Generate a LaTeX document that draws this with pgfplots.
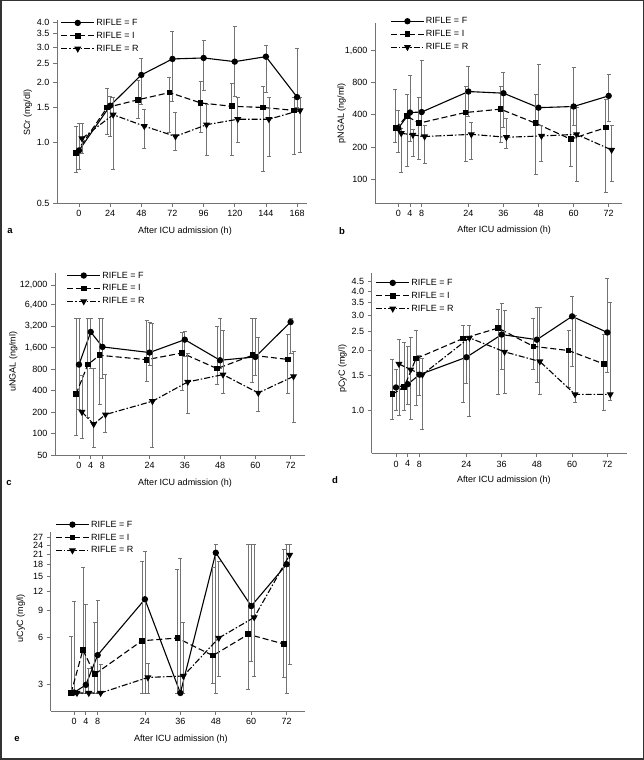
\documentclass[border=0pt]{standalone}
\usepackage{fontspec}
\setmainfont{Liberation Sans}
\usepackage{pgfplots}
\pgfplotsset{compat=1.18}
\pgfplotsset{
  panel/.style={
    scale only axis,
    anchor=south west,
    axis x line*=bottom,
    axis y line*=left,
    axis line style={-, draw=black!55, line width=0.8pt},
    tick style={draw=black!55, line width=0.8pt},
    tick align=outside,
    major tick length=4pt,
    yminorticks=false,
    font=\fontsize{9}{10.8}\selectfont,
    legend cell align=left,
    legend style={draw=none, fill=none, inner sep=0pt, row sep=0.9pt, anchor=north west,
       nodes={inner sep=1.5pt, text height=7pt, text depth=2pt},
       /tikz/every even column/.append style={column sep=3pt},
       font=\fontsize{9}{10.8}\selectfont},
    legend image code/.code={
       \draw[mark repeat=2,mark phase=2,##1] plot coordinates {(0pt,0pt) (16.5pt,0pt) (33pt,0pt)};},
    clip=false,
  },
  eb/.style={error bars/y dir=both, error bars/y explicit,
     error bars/error bar style={solid, draw=black!55, line width=0.7pt},
     error bars/error mark options={solid, draw=black!55, line width=0.7pt, mark size=2pt, rotate=90}},
  sF/.style={black, solid, line width=1.1pt, mark=*, mark size=2.6pt, mark options={solid}},
  sI/.style={black, dash pattern=on 6pt off 3pt, line width=1.1pt, mark=square*, mark size=2.3pt, mark options={solid}},
  sR/.style={black, dash pattern=on 6pt off 2pt on 1.5pt off 2pt, line width=1.1pt, mark=triangle*, mark size=3pt, mark options={solid, rotate=180}},
}
\begin{document}
\begin{tikzpicture}[x=1pt,y=1pt]
\useasboundingbox (0,0) rectangle (644,760);
\draw[black!80, line width=1.5pt] (0.75,0.75) rectangle (643.25,759.25);

% ---------------- panel a ----------------
\begin{axis}[ymode=log, panel, at={(57pt,557pt)}, width=250pt, height=183pt,
  xmin=-16.95, xmax=175.65, ymin=0.5, ymax=4.1,
  xtick={0,24,48,72,96,120,144,168},
  xticklabels={0,24,48,72,96,120,144,168},
  ytick={0.5,1,1.5,2,2.5,3,3.5,4}, yticklabels={0.5,1.0,1.5,2.0,2.5,3.0,3.5,4.0},
  xlabel={After ICU admission (h)}, ylabel={SCr (mg/dl)},
  xlabel style={at={(axis description cs:0.512,0)}, anchor=center, yshift=-27.7pt},
  ylabel style={at={(axis description cs:-0.117,0.492)}, anchor=center},
  legend style={at={(axis description cs:0.014,1.018)}},
]
\addplot[sF, eb] table[x=t, y=v, y error plus expr=\thisrow{hi}-\thisrow{v}, y error minus expr=\thisrow{v}-\thisrow{lo}] {
t v lo hi
0 0.915 0.74 1.25
24 1.53 1.08 1.70
48 2.18 1.56 2.65
72 2.62 1.60 3.58
96 2.65 1.82 3.24
120 2.54 1.70 3.83
144 2.69 1.78 3.06
168 1.69 1.51 2.96
};
\addlegendentry{RIFLE = F}
\addplot[sI, eb] table[x expr=\thisrow{t}-2.3, y=v, y error plus expr=\thisrow{hi}-\thisrow{v}, y error minus expr=\thisrow{v}-\thisrow{lo}] {
t v lo hi
0 0.89 0.71 1.21
24 1.50 1.10 1.87
48 1.64 1.32 2.05
72 1.78 1.13 2.12
96 1.58 1.13 2.02
120 1.52 0.86 1.98
144 1.50 0.72 1.91
168 1.45 0.87 1.69
};
\addlegendentry{RIFLE = I}
\addplot[sR, eb] table[x expr=\thisrow{t}+2.3, y=v, y error plus expr=\thisrow{hi}-\thisrow{v}, y error minus expr=\thisrow{v}-\thisrow{lo}] {
t v lo hi
0 1.05 0.88 1.25
24 1.38 0.74 1.68
48 1.21 0.94 1.46
72 1.075 0.92 1.41
96 1.23 0.86 1.56
120 1.31 1.00 1.68
144 1.31 0.85 1.68
168 1.45 0.90 1.69
};
\addlegendentry{RIFLE = R}
\end{axis}

% ---------------- panel b ----------------
\begin{axis}[ymode=log, panel, at={(375pt,557pt)}, width=247pt, height=180pt,
  xmin=-7.97, xmax=76.56, ymin=60, ymax=2892,
  xtick={0,4,8,24,36,48,60,72}, xticklabels={0,4,8,24,36,48,60,72},
  ytick={100,200,400,800,1600}, yticklabels={100,200,400,800,{1,600}},
  xlabel={After ICU admission (h)}, ylabel={pNGAL (ng/ml)},
  xlabel style={at={(axis description cs:0.523,0)}, anchor=center, yshift=-27pt},
  ylabel style={at={(axis description cs:-0.135,0.498)}, anchor=center},
  legend style={at={(axis description cs:0.0615,1.044)}},
]
\addplot[sF, eb] table[x=t, y=v, y error plus expr=\thisrow{hi}-\thisrow{v}, y error minus expr=\thisrow{v}-\thisrow{lo}] {
t v lo hi
0 300 177 445
4 421 228 927
8 425 250 1300
24 661 385 1133
36 638 306 996
48 467 322 1175
60 479 316 1113
72 602 346 947
};
\addlegendentry{RIFLE = F}
\addplot[sI, eb] table[x expr=\thisrow{t}-1, y=v, y error plus expr=\thisrow{hi}-\thisrow{v}, y error minus expr=\thisrow{v}-\thisrow{lo}] {
t v lo hi
0 300 220 686
4 390 131 620
8 334 152 581
24 421 146 747
36 452 220 747
48 334 110 620
60 237 133 484
72 304 75 553
};
\addlegendentry{RIFLE = I}
\addplot[sR, eb] table[x expr=\thisrow{t}+1, y=v, y error plus expr=\thisrow{hi}-\thisrow{v}, y error minus expr=\thisrow{v}-\thisrow{lo}] {
t v lo hi
0 269 115 300
4 260 165 290
8 251 141 316
24 263 152 339
36 247 195 372
48 254 148 322
60 263 95 470
72 188 95 322
};
\addlegendentry{RIFLE = R}
\end{axis}

% ---------------- panel c ----------------
\begin{axis}[ymode=log, panel, at={(55pt,305pt)}, width=250pt, height=182pt,
  xmin=-8.16, xmax=76.9, ymin=50, ymax=17670,
  xtick={0,4,8,24,36,48,60,72}, xticklabels={0,4,8,24,36,48,60,72},
  ytick={50,100,200,400,800,1600,3200,6400,12000},
  yticklabels={50,100,200,400,800,{1,600},{3,200},{6,400},{12,000}},
  xlabel={After ICU admission (h)}, ylabel={uNGAL (ng/ml)},
  xlabel style={at={(axis description cs:0.52,0)}, anchor=center, yshift=-27.7pt},
  ylabel style={at={(axis description cs:-0.167,0.513)}, anchor=center},
  legend style={at={(axis description cs:0.046,1.02)}},
]
\addplot[sF, eb] table[x=t, y=v, y error plus expr=\thisrow{hi}-\thisrow{v}, y error minus expr=\thisrow{v}-\thisrow{lo}] {
t v lo hi
0 922 217 4050
4 2640 810 4050
8 1630 600 4050
24 1360 902 3640
36 2060 1200 2700
48 1060 810 4050
60 1180 654 4050
72 3640 1320 4050
};
\addlegendentry{RIFLE = F}
\addplot[sI, eb] table[x expr=\thisrow{t}-1, y=v, y error plus expr=\thisrow{hi}-\thisrow{v}, y error minus expr=\thisrow{v}-\thisrow{lo}] {
t v lo hi
0 355 95 4050
4 922 167 4050
8 1245 257 4050
24 1080 545 3900
36 1340 404 2640
48 810 484 3200
60 1245 527 4050
72 1090 370 2420
};
\addlegendentry{RIFLE = I}
\addplot[sR, eb] table[x expr=\thisrow{t}+1, y=v, y error plus expr=\thisrow{hi}-\thisrow{v}, y error minus expr=\thisrow{v}-\thisrow{lo}] {
t v lo hi
0 200 85 654
4 135 64 810
8 184 105 668
24 283 64 3500
36 527 190 1320
48 668 370 2780
60 370 207 2200
72 630 141 1420
};
\addlegendentry{RIFLE = R}
\end{axis}

% ---------------- panel d ----------------
\begin{axis}[ymode=log, panel, at={(371.7pt,306.7pt)}, width=255pt, height=180.6pt,
  xmin=-8.28, xmax=78.6, ymin=0.603, ymax=4.96,
  xtick={0,4,8,24,36,48,60,72}, xticklabels={0,4,8,24,36,48,60,72},
  ytick={1,1.5,2,2.5,3,3.5,4,4.5}, yticklabels={1.0,1.5,2.0,2.5,3.0,3.5,4.0,4.5},
  xlabel={After ICU admission (h)}, ylabel={pCyC (mg/l)},
  xlabel style={at={(axis description cs:0.518,0)}, anchor=center, yshift=-26.7pt},
  ylabel style={at={(axis description cs:-0.114,0.467)}, anchor=center},
  legend style={at={(axis description cs:0.0149,0.978)}},
]
\addplot[sF, eb] table[x=t, y=v, y error plus expr=\thisrow{hi}-\thisrow{v}, y error minus expr=\thisrow{v}-\thisrow{lo}] {
t v lo hi
0 1.30 1.00 1.61
4 1.35 1.07 2.10
8 1.51 1.19 1.90
24 1.85 1.37 2.27
36 2.41 1.60 3.46
48 2.27 1.38 3.33
60 2.98 1.67 3.77
72 2.47 1.55 4.62
};
\addlegendentry{RIFLE = F}
\addplot[sI, eb] table[x expr=\thisrow{t}-1.2, y=v, y error plus expr=\thisrow{hi}-\thisrow{v}, y error minus expr=\thisrow{v}-\thisrow{lo}] {
t v lo hi
0 1.20 0.90 1.81
4 1.31 1.00 2.21
8 1.82 1.05 2.52
24 2.30 1.09 2.69
36 2.60 1.20 3.25
48 2.10 1.60 2.90
60 2.00 1.30 2.52
72 1.71 1.00 2.41
};
\addlegendentry{RIFLE = I}
\addplot[sR, eb] table[x expr=\thisrow{t}+1, y=v, y error plus expr=\thisrow{hi}-\thisrow{v}, y error minus expr=\thisrow{v}-\thisrow{lo}] {
t v lo hi
0 1.71 0.94 2.27
4 1.60 0.896 2.32
8 1.51 0.80 1.83
24 2.32 0.925 2.68
36 1.97 1.22 3.20
48 1.76 1.20 3.32
60 1.20 1.09 3.00
72 1.20 1.12 3.53
};
\addlegendentry{RIFLE = R}
\end{axis}

% ---------------- panel e ----------------
\begin{axis}[ymode=log, panel, at={(50.7pt,49pt)}, width=254.3pt, height=179.3pt,
  xmin=-7.9, xmax=78.2, ymin=2.0, ymax=29.5,
  xtick={0,4,8,24,36,48,60,72}, xticklabels={0,4,8,24,36,48,60,72},
  ytick={3,6,9,12,15,18,21,24,27}, yticklabels={3,6,9,12,15,18,21,24,27},
  xlabel={After ICU admission (h)}, ylabel={uCyC (mg/l)},
  xlabel style={at={(axis description cs:0.512,0)}, anchor=center, yshift=-28.3pt},
  ylabel style={at={(axis description cs:-0.118,0.517)}, anchor=center},
  legend style={at={(axis description cs:0.0177,1.074)}},
]
\addplot[sF, eb] table[x=t, y=v, y error plus expr=\thisrow{hi}-\thisrow{v}, y error minus expr=\thisrow{v}-\thisrow{lo}] {
t v lo hi
0 2.64 2.62 10.3
4 2.96 2.62 9.9
8 4.63 2.62 10.5
24 10.7 2.62 21.9
36 2.62 2.62 19.9
48 21.5 2.62 24.5
60 9.66 4.2 24.5
72 18.1 2.62 24.5
};
\addlegendentry{RIFLE = F}
\addplot[sI, eb] table[x expr=\thisrow{t}-1, y=v, y error plus expr=\thisrow{hi}-\thisrow{v}, y error minus expr=\thisrow{v}-\thisrow{lo}] {
t v lo hi
0 2.62 2.62 6.1
4 5.0 2.62 17.2
8 3.47 2.62 7.6
24 5.74 2.62 18.8
36 5.98 2.62 16.7
48 4.59 3.03 17.4
60 6.32 2.77 24.5
72 5.47 3.31 22.6
};
\addlegendentry{RIFLE = I}
\addplot[sR, eb] table[x expr=\thisrow{t}+1, y=v, y error plus expr=\thisrow{hi}-\thisrow{v}, y error minus expr=\thisrow{v}-\thisrow{lo}] {
t v lo hi
0 2.62 2.62 2.62
4 2.62 2.62 3.8
8 2.62 2.62 4.0
24 3.31 2.62 4.09
36 3.38 2.62 7.6
48 5.98 3.34 18.8
60 8.15 3.38 24.5
72 20.8 4.05 24.5
};
\addlegendentry{RIFLE = R}
\end{axis}

\node[font=\bfseries\fontsize{9.5}{11}\selectfont] at (10pt,529.3pt) {a};
\node[font=\bfseries\fontsize{9.5}{11}\selectfont] at (342pt,529.3pt) {b};
\node[font=\bfseries\fontsize{9.5}{11}\selectfont] at (9pt,277.3pt) {c};
\node[font=\bfseries\fontsize{9.5}{11}\selectfont] at (335pt,280pt) {d};
\node[font=\bfseries\fontsize{9.5}{11}\selectfont] at (17pt,20.7pt) {e};
\end{tikzpicture}
\end{document}
